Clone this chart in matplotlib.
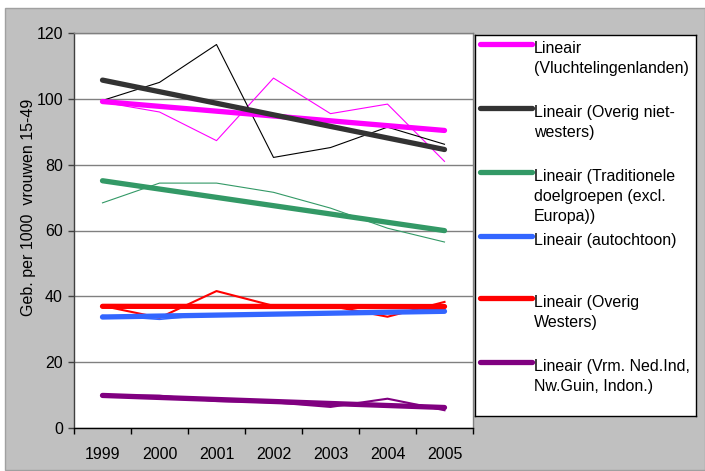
import numpy as np
import matplotlib
matplotlib.use("Agg")
import matplotlib.pyplot as plt
from matplotlib.patches import Rectangle
from matplotlib.lines import Line2D

plt.rcParams['font.family'] = ['Liberation Sans', 'DejaVu Sans']

years = ['1999', '2000', '2001', '2002', '2003', '2004', '2005']
vluchtelingen = [99.0, 96.0, 87.3, 106.3, 95.5, 98.4, 81.0]
overig_niet_westers = [99.5, 105.0, 116.5, 82.2, 85.2, 91.4, 86.2]
traditionele = [68.4, 74.4, 74.4, 71.6, 66.8, 60.7, 56.5]
autochtoon = [34.2, 33.0, 34.6, 34.8, 35.0, 35.2, 35.3]
overig_westers = [37.1, 33.5, 41.6, 37.1, 37.1, 33.8, 38.3]
vrm_ned_ind = [9.9, 9.8, 8.2, 7.8, 6.4, 8.9, 5.4]

series = [
    (vluchtelingen, '#FF00FF', 0.8, 'Lineair\n(Vluchtelingenlanden)'),
    (overig_niet_westers, '#333333', 0.8, 'Lineair (Overig niet-\nwesters)'),
    (traditionele, '#339966', 0.8, 'Lineair (Traditionele\ndoelgroepen (excl.\nEuropa))'),
    (autochtoon, '#3366FF', 1.1, 'Lineair (autochtoon)'),
    (overig_westers, '#FF0000', 1.5, 'Lineair (Overig\nWesters)'),
    (vrm_ned_ind, '#800080', 1.5, 'Lineair (Vrm. Ned.Ind,\nNw.Guin, Indon.)'),
]
thin_colors = ['#FF00FF', '#000000', '#339966', '#3366FF', '#FF0000', '#800080']

FS = 11.5
W, H = 705, 471
fig = plt.figure(figsize=(W / 100, H / 100), dpi=100)
fig.patch.set_facecolor('white')
bg = Rectangle((5 / W, 1 - 470 / H), 1 - 5 / W, (470 - 8) / H,
               transform=fig.transFigure, facecolor='#C0C0C0',
               edgecolor='#A0A0A0', linewidth=1, zorder=-10)
fig.patches.append(bg)

L, R, T, B = 74, 473, 33, 428
ax = fig.add_axes([L / W, 1 - B / H, (R - L) / W, (B - T) / H])
ax.set_facecolor('white')
x = np.arange(len(years))

for (vals, tcol, lw, _lab), tc in zip(series, thin_colors):
    ax.plot(x, vals, color=tc, linewidth=lw, zorder=3)
for vals, tcol, lw, lab in series:
    k, b = np.polyfit(x, vals, 1)
    ax.plot(x, k * x + b, color=tcol, linewidth=3.8, solid_capstyle='round', zorder=4)

ax.set_xlim(-0.5, len(years) - 0.5)
ax.set_ylim(0, 120)
ax.set_yticks(np.arange(0, 121, 20))
ax.set_xticks(x)
ax.set_xticklabels(years)
ax.set_xticks(np.arange(-0.5, len(years), 1), minor=True)
ax.tick_params(axis='x', which='major', length=0, labelsize=FS, pad=14)
ax.tick_params(axis='x', which='minor', length=4, width=1, color='black', direction='out')
ax.tick_params(axis='y', length=4, width=1, labelsize=FS, color='#404040', pad=4)
ax.yaxis.grid(True, color='#808080', linewidth=1)
ax.set_axisbelow(True)
for s in ['top', 'right']:
    ax.spines[s].set_color('#808080')
ax.spines['left'].set_color('#404040')
ax.spines['bottom'].set_color('black')
for s in ax.spines.values():
    s.set_linewidth(1)

fig.text(29 / W, 1 - 207 / H, 'Geb. per 1000  vrouwen 15-49', rotation=90,
         ha='center', va='center', fontsize=FS)

# legend
lx0, lx1, ly0, ly1 = 475, 696, 35, 416
lax = fig.add_axes([lx0 / W, 1 - ly1 / H, (lx1 - lx0) / W, (ly1 - ly0) / H])
lax.set_xlim(0, lx1 - lx0)
lax.set_ylim(ly1 - ly0, 0)
lax.set_xticks([])
lax.set_yticks([])
lax.set_facecolor('white')
for s in lax.spines.values():
    s.set_color('black')
    s.set_linewidth(1)
ys = [44.3, 108.3, 172.3, 235.7, 298.3, 361.7]
for (vals, tcol, lw, lab), yy in zip(series, ys):
    yl = yy - ly0
    lax.add_line(Line2D([5, 57], [yl, yl], color=tcol, linewidth=3.8,
                        solid_capstyle='round'))
    lax.text(59, yl - 3, lab, fontsize=FS, va='top', ha='left', linespacing=1.4)

fig.savefig('out.png', dpi=100, facecolor=fig.get_facecolor())
